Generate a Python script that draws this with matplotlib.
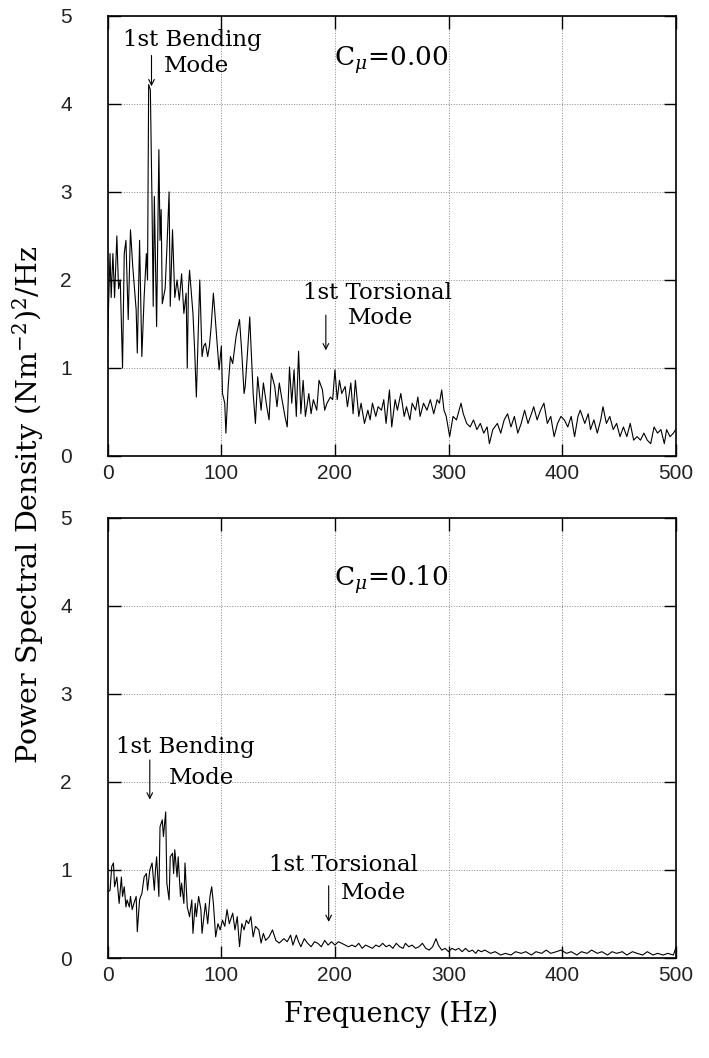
import matplotlib
matplotlib.use("Agg")
import matplotlib.pyplot as plt

plt.rcParams['mathtext.fontset'] = 'dejavuserif'

# top panel, C_mu = 0.00 : frequency (Hz) and PSD
freq_top = [0, 2, 3, 4.5, 6, 8, 9.5, 11, 13, 14.5, 16, 18, 20, 22, 23.5, 25, 26, 28, 30,
            32, 34, 35, 36, 37.5, 39, 40, 41, 43, 45, 46, 47, 48, 49, 50.5, 52, 54, 55,
            57, 59, 61, 63, 65, 67, 69, 70, 71, 72, 75, 76.5, 78, 81, 83, 84.5, 86, 88,
            89.5, 91, 93, 96, 98, 100, 101, 103, 104, 106, 108, 110, 113, 116, 118, 120,
            121, 123, 125, 126, 128, 130, 132, 135, 137, 140, 142, 144, 147, 149, 151,
            153, 156, 158, 160, 162, 164, 166, 168, 170, 172, 174, 177, 179, 181, 184,
            186, 189, 191, 193, 196, 198, 200, 202, 204, 206, 209, 211, 214, 216, 218,
            221, 223, 226, 229, 231, 233, 236, 238, 241, 243, 245, 248, 250, 253, 255,
            258, 261, 263, 266, 268, 271, 273, 275, 278, 281, 284, 287, 290, 292, 294,
            296, 298, 301, 304, 307, 311, 313, 316, 319, 322, 325, 328, 331, 334, 336,
            339, 343, 346, 349, 352, 355, 358, 361, 364, 367, 370, 373, 375, 378, 381,
            384, 387, 390, 393, 396, 399, 402, 405, 408, 411, 414, 416, 420, 423, 425,
            428, 431, 434, 436, 439, 442, 445, 448, 451, 454, 457, 460, 463, 466, 469,
            472, 475, 478, 481, 484, 487, 490, 492, 495, 498, 500]
psd_top = [1.4, 2.3, 1.8, 2.3, 1.8, 2.5, 1.9, 2.0, 1.0, 2.3, 2.45, 1.55, 2.57, 2.15, 1.9,
           1.66, 1.17, 2.45, 1.13, 1.8, 2.3, 2.0, 4.22, 4.16, 2.83, 1.7, 2.95, 1.47, 3.48,
           2.45, 2.8, 1.73, 1.8, 1.9, 2.34, 3.0, 1.7, 2.57, 1.8, 2.0, 1.77, 2.07, 1.62,
           1.85, 1.0, 1.9, 2.11, 1.62, 1.2, 0.67, 2.0, 1.13, 1.25, 1.28, 1.13, 1.25, 1.47,
           1.85, 1.32, 0.98, 1.25, 0.71, 0.6, 0.26, 0.79, 1.13, 1.05, 1.36, 1.55, 1.17,
           0.71, 0.79, 1.17, 1.58, 1.28, 0.71, 0.37, 0.90, 0.52, 0.83, 0.56, 0.41, 0.94,
           0.79, 0.56, 0.83, 0.67, 0.45, 0.33, 1.01, 0.60, 0.98, 0.45, 1.19, 0.48, 0.86,
           0.45, 0.71, 0.48, 0.64, 0.52, 0.86, 0.75, 0.52, 0.60, 0.67, 0.64, 0.98, 0.64,
           0.86, 0.71, 0.79, 0.56, 0.83, 0.48, 0.86, 0.45, 0.60, 0.37, 0.52, 0.41, 0.60,
           0.45, 0.56, 0.52, 0.64, 0.37, 0.75, 0.33, 0.64, 0.52, 0.71, 0.45, 0.56, 0.41,
           0.60, 0.52, 0.67, 0.45, 0.60, 0.52, 0.64, 0.48, 0.64, 0.60, 0.75, 0.52, 0.45,
           0.22, 0.45, 0.41, 0.60, 0.48, 0.37, 0.33, 0.41, 0.30, 0.37, 0.26, 0.33, 0.14,
           0.30, 0.37, 0.26, 0.41, 0.48, 0.33, 0.45, 0.26, 0.37, 0.52, 0.37, 0.48, 0.56,
           0.41, 0.52, 0.60, 0.37, 0.45, 0.22, 0.37, 0.45, 0.41, 0.33, 0.45, 0.22, 0.45,
           0.52, 0.37, 0.48, 0.30, 0.41, 0.26, 0.41, 0.56, 0.37, 0.45, 0.30, 0.37, 0.22,
           0.33, 0.22, 0.37, 0.18, 0.22, 0.18, 0.26, 0.18, 0.14, 0.33, 0.26, 0.30, 0.14,
           0.30, 0.22, 0.26, 0.30]

# bottom panel, C_mu = 0.10
freq_bot = [0, 2, 3.5, 5, 6, 8, 10, 12, 13, 14.5, 16, 17, 19, 20, 21.5, 23, 25, 26, 28,
            29, 30, 32, 34, 35, 37, 39, 41, 42, 43, 45, 46, 48, 49, 51, 52, 54, 55, 57,
            58, 59, 61, 62, 64, 65, 67, 68, 70, 72, 74, 75, 77, 78, 80, 82, 83, 86, 88,
            90, 91.5, 93, 95, 97, 99, 101, 103, 105, 107, 110, 112, 114, 116, 118, 120,
            122, 124, 126, 128, 130, 133, 135, 137, 139, 142, 145, 148, 151, 155, 158,
            161, 163, 166, 168, 170, 173, 176, 179, 182, 185, 188, 191, 194, 197, 200,
            203, 206, 209, 212, 215, 218, 221, 224, 227, 230, 233, 236, 239, 242, 245,
            248, 251, 254, 257, 260, 262, 265, 268, 271, 274, 277, 280, 283, 286, 289,
            291, 294, 297, 300, 303, 306, 309, 312, 315, 318, 321, 324, 326, 329, 332,
            337, 341, 346, 350, 355, 359, 364, 368, 373, 377, 382, 386, 390, 395, 399,
            404, 408, 413, 417, 422, 426, 431, 435, 440, 444, 448, 453, 457, 462, 466,
            471, 475, 480, 484, 489, 493, 498, 500]
psd_bot = [0.75, 0.77, 1.04, 1.08, 0.81, 0.92, 0.62, 0.92, 0.70, 0.81, 0.58, 0.66, 0.58,
           0.70, 0.55, 0.62, 0.70, 0.30, 0.66, 0.70, 0.73, 0.92, 0.96, 0.77, 1.0, 1.08,
           0.77, 1.0, 1.15, 0.70, 1.49, 1.57, 1.38, 1.66, 0.85, 0.66, 1.15, 1.19, 0.96,
           1.23, 0.92, 1.15, 0.70, 0.85, 0.62, 1.08, 0.58, 0.47, 0.66, 0.28, 0.62, 0.47,
           0.70, 0.55, 0.28, 0.62, 0.39, 0.70, 0.81, 0.62, 0.24, 0.39, 0.32, 0.43, 0.36,
           0.55, 0.39, 0.51, 0.32, 0.47, 0.13, 0.39, 0.32, 0.43, 0.39, 0.47, 0.24, 0.36,
           0.32, 0.17, 0.28, 0.20, 0.24, 0.32, 0.20, 0.17, 0.22, 0.185, 0.26, 0.147, 0.26,
           0.185, 0.128, 0.22, 0.167, 0.128, 0.185, 0.167, 0.128, 0.20, 0.147, 0.185,
           0.147, 0.185, 0.167, 0.147, 0.128, 0.147, 0.128, 0.167, 0.11, 0.147, 0.128,
           0.11, 0.147, 0.128, 0.167, 0.128, 0.147, 0.11, 0.167, 0.128, 0.11, 0.167,
           0.128, 0.147, 0.11, 0.128, 0.167, 0.11, 0.09, 0.128, 0.22, 0.147, 0.09, 0.11,
           0.072, 0.11, 0.09, 0.11, 0.072, 0.11, 0.072, 0.09, 0.053, 0.09, 0.072, 0.09,
           0.053, 0.072, 0.034, 0.053, 0.034, 0.072, 0.053, 0.072, 0.034, 0.072, 0.053,
           0.09, 0.053, 0.072, 0.09, 0.053, 0.072, 0.034, 0.072, 0.053, 0.09, 0.053,
           0.072, 0.034, 0.072, 0.053, 0.072, 0.034, 0.072, 0.053, 0.034, 0.072, 0.034,
           0.053, 0.034, 0.053, 0.034, 0.11]

xticks = [0, 100, 200, 300, 400, 500]
yticks = [0, 1, 2, 3, 4, 5]
serif = 'DejaVu Serif'
tickfont = 'Liberation Sans'

fig = plt.figure(figsize=(7.09, 10.58), dpi=100)
ax1 = fig.add_axes([0.152, 0.569, 0.801, 0.416])
ax2 = fig.add_axes([0.152, 0.0945, 0.801, 0.416])


def style_axes(ax):
    ax.set_xlim(0, 500)
    ax.set_ylim(0, 5)
    ax.set_xticks(xticks)
    ax.set_yticks(yticks)
    ax.grid(True, linestyle=':', color='#888888', linewidth=0.7)
    ax.tick_params(direction='in', length=9, width=1.0, top=True, right=True,
                   labelsize=15)
    ax.tick_params(axis='y', pad=26)
    ax.tick_params(axis='x', pad=6)
    for lab in ax.get_xticklabels() + ax.get_yticklabels():
        lab.set_fontfamily(tickfont)
        lab.set_color('#222222')
    for s in ax.spines.values():
        s.set_linewidth(1.2)


def note(ax, txt1, txt2, x1, y1, x2, y2, ax_x, ay0, ay1):
    ax.text(x1, y1, txt1, family=serif, fontsize=16.5, va='center', ha='left')
    ax.text(x2, y2, txt2, family=serif, fontsize=16.5, va='center', ha='left')
    ax.annotate('', xy=(ax_x, ay1), xytext=(ax_x, ay0),
                arrowprops=dict(arrowstyle='->', lw=0.8, color='black',
                                mutation_scale=10, shrinkA=0, shrinkB=0))


# top
ax1.plot(freq_top, psd_top, color='black', linewidth=0.8)
style_axes(ax1)
note(ax1, '1st Bending', 'Mode', 13, 4.73, 49, 4.43, 38.5, 4.55, 4.2)
note(ax1, '1st Torsional', 'Mode', 172, 1.85, 211, 1.57, 192, 1.6, 1.2)
ax1.text(199, 4.5, r'C$_{\mu}$=0.00', family=serif, fontsize=19, va='center')

# bottom
ax2.plot(freq_bot, psd_bot, color='black', linewidth=0.8)
style_axes(ax2)
note(ax2, '1st Bending', 'Mode', 7, 2.4, 54, 2.05, 37, 2.25, 1.8)
note(ax2, '1st Torsional', 'Mode', 142, 1.06, 205, 0.74, 194.5, 0.82, 0.41)
ax2.text(199, 4.3, r'C$_{\mu}$=0.10', family=serif, fontsize=19, va='center')

fig.text(0.04, 0.523, r'Power Spectral Density (Nm$^{-2}$)$^{2}$/Hz', family=serif,
         fontsize=20.5, rotation=90, ha='center', va='center')
fig.text(0.552, 0.041, 'Frequency (Hz)', family=serif, fontsize=19.5,
         ha='center', va='center')

fig.savefig('out.png', dpi=100)
